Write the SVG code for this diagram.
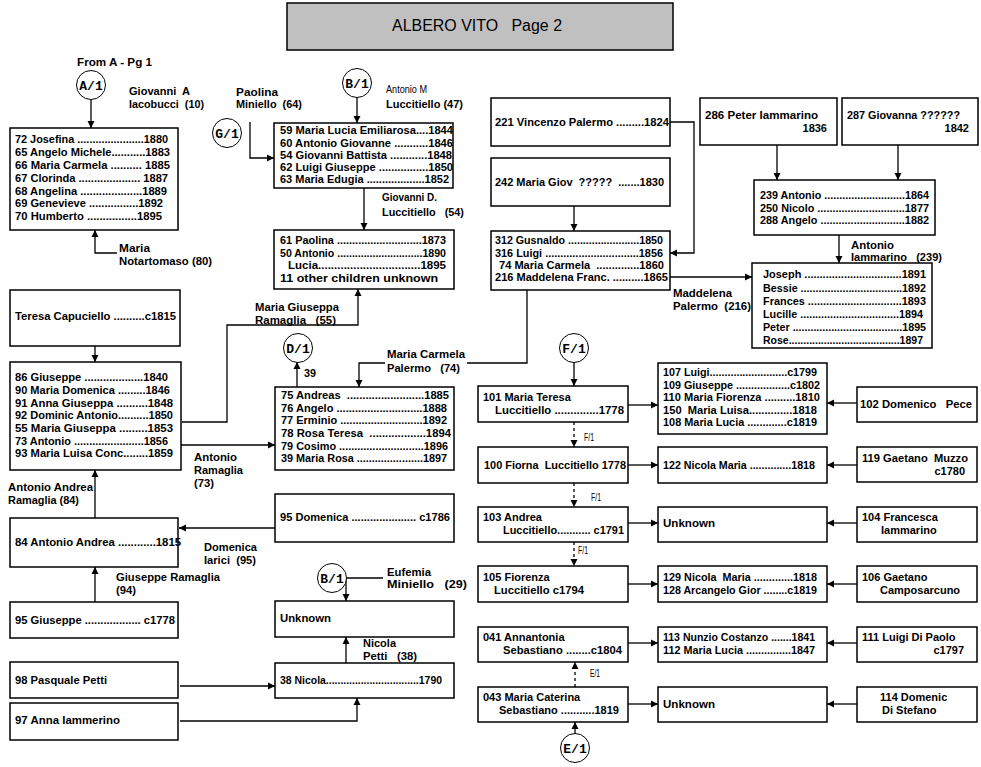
<svg xmlns="http://www.w3.org/2000/svg" width="981" height="767" viewBox="0 0 981 767" xml:space="preserve">
<defs>
<style>
text{white-space:pre}
.b{fill:#fff;stroke:#000;stroke-width:1.5}
.t{font-family:"Liberation Sans",Arial,sans-serif;font-weight:bold;font-size:11.5px;fill:#000}
.r{font-size:11px}
.e{text-anchor:end}
.s{font-family:"Liberation Sans",Arial,sans-serif;font-size:10px;fill:#000}
.ci{fill:#fff;stroke:#000;stroke-width:1}
.cl{font-family:"Liberation Mono","Courier New",monospace;font-weight:bold;font-size:13px;fill:#000;text-anchor:middle}
.l{fill:none;stroke:#000;stroke-width:1.3}
.a{marker-end:url(#ah)}
.d{stroke-dasharray:3,3}
.ttl{font-family:"Liberation Sans",Arial,sans-serif;font-size:16px;fill:#000}
</style>
<marker id="ah" viewBox="0 0 10 10" refX="10" refY="5" markerWidth="7" markerHeight="8" markerUnits="userSpaceOnUse" orient="auto"><path d="M0,0 L10,5 L0,10 z" fill="#000"/></marker>
</defs>
<rect width="981" height="767" fill="#fff"/>

<g id="title">
<rect x="287" y="3" width="386" height="47" fill="#c0c0c0" stroke="#000" stroke-width="1.5"/>
<text class="ttl" x="392" y="31" textLength="170" lengthAdjust="spacingAndGlyphs">ALBERO VITO   Page 2</text>
</g>

<g id="connectors">
<path class="l a" d="M91,100 V128"/>
<path class="l a" d="M117,253 H95 V230"/>
<path class="l a" d="M250,122 V158 H274"/>
<path class="l a" d="M357,97 V123"/>
<path class="l a" d="M364,188 V230"/>
<path class="l a" d="M182,422 H227 V325 H358 V289"/>
<path class="l a" d="M95,346 V362"/>
<path class="l a" d="M95,518 V470"/>
<path class="l a" d="M181,445 H275"/>
<path class="l a" d="M297,387 V362"/>
<path class="l" d="M527,290 V363 H467"/>
<path class="l a" d="M385,363 H359 V387"/>
<path class="l a" d="M275,528 H179"/>
<path class="l a" d="M95,602 V567"/>
<path class="l a" d="M180,686 H275"/>
<path class="l a" d="M180,721 H357 V698"/>
<path class="l" d="M346,578 H383"/>
<path class="l a" d="M346,578 V601"/>
<path class="l a" d="M346,663 V637"/>
<path class="l a" d="M670,122 H694 V253 H670"/>
<path class="l a" d="M574,206 V231"/>
<path class="l a" d="M670,277 H752"/>
<path class="l a" d="M777,145 V180"/>
<path class="l a" d="M898,145 V180"/>
<path class="l a" d="M839,235 V263"/>
<path class="l a" d="M574,362 V386"/>
<path class="l a" d="M628,405 H658"/>
<path class="l a" d="M857,403 H827"/>
<path class="l d a" d="M574,422 V447"/>
<path class="l a" d="M628,465 H658"/>
<path class="l a" d="M857,465 H827"/>
<path class="l d a" d="M574,483 V507"/>
<path class="l a" d="M628,523 H658"/>
<path class="l a" d="M857,523 H827"/>
<path class="l d a" d="M574,542 V566"/>
<path class="l a" d="M628,584 H658"/>
<path class="l a" d="M857,584 H827"/>
<path class="l a" d="M628,643 H658"/>
<path class="l a" d="M857,643 H827"/>
<path class="l d a" d="M575,687 V662"/>
<path class="l a" d="M628,704 H658"/>
<path class="l a" d="M857,704 H827"/>
<path class="l a" d="M575,734 V722"/>
</g>

<g id="labels">
<text class="t" x="77" y="66" textLength="75" lengthAdjust="spacingAndGlyphs">From A - Pg 1</text>
<text class="t" x="129" y="95" textLength="61" lengthAdjust="spacingAndGlyphs">Giovanni  A</text>
<text class="t" x="129" y="108" textLength="75" lengthAdjust="spacingAndGlyphs">Iacobucci  (10)</text>
<text class="t" x="236" y="96" textLength="42" lengthAdjust="spacingAndGlyphs">Paolina</text>
<text class="t" x="236" y="108" textLength="66" lengthAdjust="spacingAndGlyphs">Miniello  (64)</text>
<text class="s" x="386" y="93" textLength="41" lengthAdjust="spacingAndGlyphs">Antonio M</text>
<text class="t" x="386" y="108" textLength="77" lengthAdjust="spacingAndGlyphs">Luccitiello (47)</text>
<text class="t" x="119" y="252" textLength="31" lengthAdjust="spacingAndGlyphs">Maria</text>
<text class="t" x="119" y="265" textLength="93" lengthAdjust="spacingAndGlyphs">Notartomaso (80)</text>
<text class="t" x="382" y="201" textLength="55" lengthAdjust="spacingAndGlyphs">Giovanni D.</text>
<text class="t" x="382" y="216" textLength="82" lengthAdjust="spacingAndGlyphs">Luccitiello   (54)</text>
<text class="t" x="255" y="311" textLength="84" lengthAdjust="spacingAndGlyphs">Maria Giuseppa</text>
<text class="t" x="255" y="324" textLength="81" lengthAdjust="spacingAndGlyphs">Ramaglia   (55)</text>
<text class="t" x="304" y="377" textLength="12" lengthAdjust="spacingAndGlyphs">39</text>
<text class="t" x="387" y="358" textLength="78" lengthAdjust="spacingAndGlyphs">Maria Carmela</text>
<text class="t" x="387" y="372" textLength="73" lengthAdjust="spacingAndGlyphs">Palermo   (74)</text>
<text class="t" x="194" y="461" textLength="43" lengthAdjust="spacingAndGlyphs">Antonio</text>
<text class="t" x="194" y="474" textLength="49" lengthAdjust="spacingAndGlyphs">Ramaglia</text>
<text class="t" x="194" y="487" textLength="20" lengthAdjust="spacingAndGlyphs">(73)</text>
<text class="t" x="8" y="491" textLength="85" lengthAdjust="spacingAndGlyphs">Antonio Andrea</text>
<text class="t" x="8" y="504" textLength="71" lengthAdjust="spacingAndGlyphs">Ramaglia (84)</text>
<text class="t" x="204" y="551" textLength="53" lengthAdjust="spacingAndGlyphs">Domenica</text>
<text class="t" x="204" y="564" textLength="52" lengthAdjust="spacingAndGlyphs">Iarici  (95)</text>
<text class="t" x="116" y="581" textLength="104" lengthAdjust="spacingAndGlyphs">Giuseppe Ramaglia</text>
<text class="t" x="116" y="594" textLength="20" lengthAdjust="spacingAndGlyphs">(94)</text>
<text class="t" x="387" y="576" textLength="44" lengthAdjust="spacingAndGlyphs">Eufemia</text>
<text class="t" x="387" y="588" textLength="80" lengthAdjust="spacingAndGlyphs">Miniello   (29)</text>
<text class="t" x="363" y="647" textLength="33" lengthAdjust="spacingAndGlyphs">Nicola</text>
<text class="t" x="363" y="660" textLength="54" lengthAdjust="spacingAndGlyphs">Petti   (38)</text>
<text class="t" x="673" y="297" textLength="59" lengthAdjust="spacingAndGlyphs">Maddelena</text>
<text class="t" x="673" y="310" textLength="78" lengthAdjust="spacingAndGlyphs">Palermo  (216)</text>
<text class="t" x="851" y="249" textLength="43" lengthAdjust="spacingAndGlyphs">Antonio</text>
<text class="t" x="851" y="261" textLength="91" lengthAdjust="spacingAndGlyphs">Iammarino   (239)</text>
<text class="s" x="584" y="441" textLength="10" lengthAdjust="spacingAndGlyphs">F/1</text>
<text class="s" x="591" y="501" textLength="10" lengthAdjust="spacingAndGlyphs">F/1</text>
<text class="s" x="578" y="554" textLength="10" lengthAdjust="spacingAndGlyphs">F/1</text>
<text class="s" x="590" y="677" textLength="10" lengthAdjust="spacingAndGlyphs">E/1</text>
</g>

<g id="c-a1"><circle class="ci" cx="91" cy="85" r="14.5"/><text class="cl" x="91" y="90">A/1</text></g>
<g id="c-g1"><circle class="ci" cx="227" cy="133" r="14.5"/><text class="cl" x="227" y="138">G/1</text></g>
<g id="c-b1a"><circle class="ci" cx="357" cy="83" r="14.5"/><text class="cl" x="357" y="88">B/1</text></g>
<g id="c-d1"><circle class="ci" cx="298" cy="348" r="14.5"/><text class="cl" x="298" y="353">D/1</text></g>
<g id="c-b1b"><circle class="ci" cx="332" cy="578" r="14.5"/><text class="cl" x="332" y="583">B/1</text></g>
<g id="c-f1"><circle class="ci" cx="574" cy="348" r="14.5"/><text class="cl" x="574" y="353">F/1</text></g>
<g id="c-e1"><circle class="ci" cx="575" cy="748" r="14.5"/><text class="cl" x="575" y="753">E/1</text></g>

<g id="n-josefina"><rect class="b" x="10" y="128" width="168" height="102"/>
<text class="t" x="15" y="143" textLength="153" lengthAdjust="spacingAndGlyphs">72 Josefina ......................1880</text>
<text class="t" x="15" y="156" textLength="155" lengthAdjust="spacingAndGlyphs">65 Angelo Michele...........1883</text>
<text class="t" x="15" y="169" textLength="155" lengthAdjust="spacingAndGlyphs">66 Maria Carmela .......... 1885</text>
<text class="t" x="15" y="182" textLength="153" lengthAdjust="spacingAndGlyphs">67 Clorinda .................... 1887</text>
<text class="t" x="15" y="195" textLength="152" lengthAdjust="spacingAndGlyphs">68 Angelina ....................1889</text>
<text class="t" x="15" y="207" textLength="148" lengthAdjust="spacingAndGlyphs">69 Genevieve ................1892</text>
<text class="t" x="15" y="220" textLength="147" lengthAdjust="spacingAndGlyphs">70 Humberto ................1895</text>
</g>

<g id="n-maria-lucia"><rect class="b" x="274" y="123" width="179" height="65"/>
<text class="t" x="280" y="134" textLength="173" lengthAdjust="spacingAndGlyphs">59 Maria Lucia Emiliarosa....1844</text>
<text class="t" x="280" y="147" textLength="173" lengthAdjust="spacingAndGlyphs">60 Antonio Giovanne ...........1846</text>
<text class="t" x="280" y="159" textLength="172" lengthAdjust="spacingAndGlyphs">54 Giovanni Battista ............1848</text>
<text class="t" x="280" y="171" textLength="173" lengthAdjust="spacingAndGlyphs">62 Luigi Giuseppe ................1850</text>
<text class="t" x="280" y="183" textLength="169" lengthAdjust="spacingAndGlyphs">63 Maria Edugia ...................1852</text>
</g>

<g id="n-paolina"><rect class="b" x="274" y="230" width="180" height="59"/>
<text class="t" x="280" y="244" textLength="166" lengthAdjust="spacingAndGlyphs">61 Paolina ............................1873</text>
<text class="t" x="280" y="257" textLength="166" lengthAdjust="spacingAndGlyphs">50 Antonio .............................1890</text>
<text class="t" x="288" y="269" textLength="158" lengthAdjust="spacingAndGlyphs">Lucia................................1895</text>
<text class="t" x="280" y="282" textLength="158" lengthAdjust="spacingAndGlyphs">11 other children unknown</text>
</g>

<g id="n-teresa"><rect class="b" x="10" y="290" width="170" height="56"/>
<text class="t" x="15" y="320" textLength="161" lengthAdjust="spacingAndGlyphs">Teresa Capuciello ..........c1815</text>
</g>

<g id="n-giuseppe86"><rect class="b" x="10" y="362" width="171" height="108"/>
<text class="t" x="15" y="381" textLength="153" lengthAdjust="spacingAndGlyphs">86 Giuseppe ...................1840</text>
<text class="t" x="15" y="394" textLength="155" lengthAdjust="spacingAndGlyphs">90 Maria Domenica .........1846</text>
<text class="t" x="15" y="407" textLength="158" lengthAdjust="spacingAndGlyphs">91 Anna Giuseppa ..........1848</text>
<text class="t" x="15" y="419" textLength="158" lengthAdjust="spacingAndGlyphs">92 Dominic Antonio..........1850</text>
<text class="t" x="15" y="432" textLength="158" lengthAdjust="spacingAndGlyphs">55 Maria Giuseppa .........1853</text>
<text class="t" x="15" y="445" textLength="153" lengthAdjust="spacingAndGlyphs">73 Antonio .......................1856</text>
<text class="t" x="15" y="457" textLength="158" lengthAdjust="spacingAndGlyphs">93 Maria Luisa Conc........1859</text>
</g>

<g id="n-andreas"><rect class="b" x="275" y="387" width="179" height="83"/>
<text class="t" x="281" y="399" textLength="168" lengthAdjust="spacingAndGlyphs">75 Andreas  .........................1885</text>
<text class="t" x="281" y="412" textLength="166" lengthAdjust="spacingAndGlyphs">76 Angelo ............................1888</text>
<text class="t" x="281" y="424" textLength="166" lengthAdjust="spacingAndGlyphs">77 Erminio ...........................1892</text>
<text class="t" x="281" y="437" textLength="170" lengthAdjust="spacingAndGlyphs">78 Rosa Teresa  ..................1894</text>
<text class="t" x="281" y="450" textLength="167" lengthAdjust="spacingAndGlyphs">79 Cosimo ............................1896</text>
<text class="t" x="281" y="462" textLength="166" lengthAdjust="spacingAndGlyphs">39 Maria Rosa ......................1897</text>
</g>

<g id="n-antonio-andrea"><rect class="b" x="10" y="518" width="168" height="49"/>
<text class="t" x="15" y="546" textLength="166" lengthAdjust="spacingAndGlyphs">84 Antonio Andrea ............1815</text>
</g>
<g id="n-giuseppe95"><rect class="b" x="10" y="602" width="168" height="36"/>
<text class="t" x="15" y="624" textLength="160" lengthAdjust="spacingAndGlyphs">95 Giuseppe .................. c1778</text>
</g>
<g id="n-pasquale"><rect class="b" x="10" y="662" width="168" height="36"/>
<text class="t" x="15" y="684" textLength="92" lengthAdjust="spacingAndGlyphs">98 Pasquale Petti</text>
</g>
<g id="n-anna"><rect class="b" x="10" y="703" width="168" height="37"/>
<text class="t" x="15" y="724" textLength="105" lengthAdjust="spacingAndGlyphs">97 Anna Iammerino</text>
</g>
<g id="n-domenica"><rect class="b" x="275" y="494" width="179" height="48"/>
<text class="t" x="280" y="521" textLength="170" lengthAdjust="spacingAndGlyphs">95 Domenica ..................... c1786</text>
</g>
<g id="n-unknown1"><rect class="b" x="275" y="601" width="179" height="36"/>
<text class="t" x="280" y="622" textLength="51" lengthAdjust="spacingAndGlyphs">Unknown</text>
</g>
<g id="n-nicola"><rect class="b" x="275" y="663" width="179" height="35"/>
<text class="t" x="280" y="684" textLength="162" lengthAdjust="spacingAndGlyphs">38 Nicola................................1790</text>
</g>

<g id="n-vincenzo"><rect class="b" x="491" y="98" width="179" height="48"/>
<text class="t" x="495" y="126" textLength="174" lengthAdjust="spacingAndGlyphs">221 Vincenzo Palermo .........1824</text>
</g>
<g id="n-maria-giov"><rect class="b" x="491" y="158" width="179" height="48"/>
<text class="t" x="495" y="186" textLength="169" lengthAdjust="spacingAndGlyphs">242 Maria Giov  ?????  .......1830</text>
</g>
<g id="n-gusnaldo"><rect class="b" x="491" y="231" width="179" height="59"/>
<text class="t" x="495" y="244" textLength="168" lengthAdjust="spacingAndGlyphs">312 Gusnaldo ........................1850</text>
<text class="t" x="495" y="257" textLength="168" lengthAdjust="spacingAndGlyphs">316 Luigi ...............................1856</text>
<text class="t" x="499" y="269" textLength="165" lengthAdjust="spacingAndGlyphs">74 Maria Carmela  ..............1860</text>
<text class="t" x="495" y="281" textLength="173" lengthAdjust="spacingAndGlyphs">216 Maddelena Franc. ..........1865</text>
</g>
<g id="n-peter"><rect class="b" x="700" y="98" width="137" height="47"/>
<text class="t" x="705" y="119" textLength="113" lengthAdjust="spacingAndGlyphs">286 Peter Iammarino</text>
<text class="t r e" x="827" y="132">1836</text>
</g>
<g id="n-giovanna"><rect class="b" x="842" y="98" width="136" height="47"/>
<text class="t" x="847" y="119" textLength="113" lengthAdjust="spacingAndGlyphs">287 Giovanna ??????</text>
<text class="t r e" x="969" y="132">1842</text>
</g>
<g id="n-antonio239"><rect class="b" x="754" y="180" width="181" height="55"/>
<text class="t" x="760" y="199" textLength="169" lengthAdjust="spacingAndGlyphs">239 Antonio ...........................1864</text>
<text class="t" x="760" y="212" textLength="169" lengthAdjust="spacingAndGlyphs">250 Nicolo .............................1877</text>
<text class="t" x="760" y="224" textLength="169" lengthAdjust="spacingAndGlyphs">288 Angelo ............................1882</text>
</g>
<g id="n-joseph"><rect class="b" x="752" y="263" width="180" height="85"/>
<text class="t" x="763" y="278" textLength="163" lengthAdjust="spacingAndGlyphs">Joseph ................................1891</text>
<text class="t" x="763" y="292" textLength="163" lengthAdjust="spacingAndGlyphs">Bessie ..................................1892</text>
<text class="t" x="763" y="305" textLength="163" lengthAdjust="spacingAndGlyphs">Frances ...............................1893</text>
<text class="t" x="763" y="318" textLength="160" lengthAdjust="spacingAndGlyphs">Lucille .................................1894</text>
<text class="t" x="763" y="331" textLength="163" lengthAdjust="spacingAndGlyphs">Peter .....................................1895</text>
<text class="t" x="763" y="344" textLength="160" lengthAdjust="spacingAndGlyphs">Rose......................................1897</text>
</g>

<g id="n-maria-teresa"><rect class="b" x="478" y="386" width="150" height="36"/>
<text class="t r" x="483" y="401">101 Maria Teresa</text>
<text class="t" x="495" y="414" textLength="129" lengthAdjust="spacingAndGlyphs">Luccitiello ..............1778</text>
</g>
<g id="n-luigi107"><rect class="b" x="658" y="363" width="169" height="71"/>
<text class="t" x="663" y="376" textLength="154" lengthAdjust="spacingAndGlyphs">107 Luigi..........................c1799</text>
<text class="t" x="663" y="389" textLength="157" lengthAdjust="spacingAndGlyphs">109 Giuseppe ..................c1802</text>
<text class="t" x="663" y="401" textLength="157" lengthAdjust="spacingAndGlyphs">110 Maria Fiorenza ..........1810</text>
<text class="t" x="663" y="414" textLength="154" lengthAdjust="spacingAndGlyphs">150  Maria Luisa..............1818</text>
<text class="t" x="663" y="426" textLength="154" lengthAdjust="spacingAndGlyphs">108 Maria Lucia .............c1819</text>
</g>
<g id="n-domenico"><rect class="b" x="857" y="387" width="120" height="35"/>
<text class="t" x="860" y="408" textLength="112" lengthAdjust="spacingAndGlyphs">102 Domenico   Pece</text>
</g>
<g id="n-fiorna"><rect class="b" x="478" y="447" width="150" height="36"/>
<text class="t" x="484" y="469" textLength="142" lengthAdjust="spacingAndGlyphs">100 Fiorna  Luccitiello 1778</text>
</g>
<g id="n-nicola122"><rect class="b" x="658" y="447" width="169" height="36"/>
<text class="t" x="663" y="469" textLength="152" lengthAdjust="spacingAndGlyphs">122 Nicola Maria ..............1818</text>
</g>
<g id="n-gaetano119"><rect class="b" x="857" y="447" width="120" height="35"/>
<text class="t" x="862" y="462" textLength="106" lengthAdjust="spacingAndGlyphs">119 Gaetano  Muzzo</text>
<text class="t r e" x="965" y="475">c1780</text>
</g>
<g id="n-andrea103"><rect class="b" x="478" y="507" width="150" height="35"/>
<text class="t r" x="483" y="521">103 Andrea</text>
<text class="t" x="503" y="534" textLength="121" lengthAdjust="spacingAndGlyphs">Luccitiello........... c1791</text>
</g>
<g id="n-unknown2"><rect class="b" x="658" y="507" width="169" height="35"/>
<text class="t" x="663" y="527" textLength="52" lengthAdjust="spacingAndGlyphs">Unknown</text>
</g>
<g id="n-francesca"><rect class="b" x="857" y="507" width="120" height="35"/>
<text class="t r" x="862" y="521">104 Francesca</text>
<text class="t r" x="881" y="534">Iammarino</text>
</g>
<g id="n-fiorenza"><rect class="b" x="478" y="566" width="150" height="36"/>
<text class="t r" x="483" y="581">105 Fiorenza</text>
<text class="t" x="494" y="594" textLength="90" lengthAdjust="spacingAndGlyphs">Luccitiello c1794</text>
</g>
<g id="n-nicola129"><rect class="b" x="658" y="566" width="169" height="36"/>
<text class="t" x="663" y="581" textLength="154" lengthAdjust="spacingAndGlyphs">129 Nicola  Maria .............1818</text>
<text class="t" x="663" y="594" textLength="154" lengthAdjust="spacingAndGlyphs">128 Arcangelo Gior ........c1819</text>
</g>
<g id="n-gaetano106"><rect class="b" x="857" y="566" width="120" height="36"/>
<text class="t r" x="862" y="581">106 Gaetano</text>
<text class="t r" x="880" y="594">Camposarcuno</text>
</g>
<g id="n-annantonia"><rect class="b" x="478" y="627" width="150" height="35"/>
<text class="t r" x="483" y="641">041 Annantonia</text>
<text class="t" x="503" y="654" textLength="119" lengthAdjust="spacingAndGlyphs">Sebastiano ........c1804</text>
</g>
<g id="n-nunzio"><rect class="b" x="658" y="627" width="169" height="35"/>
<text class="t" x="663" y="641" textLength="152" lengthAdjust="spacingAndGlyphs">113 Nunzio Costanzo .......1841</text>
<text class="t" x="663" y="654" textLength="152" lengthAdjust="spacingAndGlyphs">112 Maria Lucia ...............1847</text>
</g>
<g id="n-luigi111"><rect class="b" x="857" y="627" width="120" height="35"/>
<text class="t r" x="862" y="641">111 Luigi Di Paolo</text>
<text class="t r e" x="964" y="654">c1797</text>
</g>
<g id="n-caterina"><rect class="b" x="478" y="687" width="150" height="35"/>
<text class="t r" x="483" y="701">043 Maria Caterina</text>
<text class="t" x="499" y="714" textLength="120" lengthAdjust="spacingAndGlyphs">Sebastiano ...........1819</text>
</g>
<g id="n-unknown3"><rect class="b" x="658" y="687" width="169" height="35"/>
<text class="t" x="663" y="708" textLength="52" lengthAdjust="spacingAndGlyphs">Unknown</text>
</g>
<g id="n-domenic114"><rect class="b" x="857" y="687" width="120" height="35"/>
<text class="t r" x="880" y="701">114 Domenic</text>
<text class="t r" x="882" y="714">Di Stefano</text>
</g>
</svg>
